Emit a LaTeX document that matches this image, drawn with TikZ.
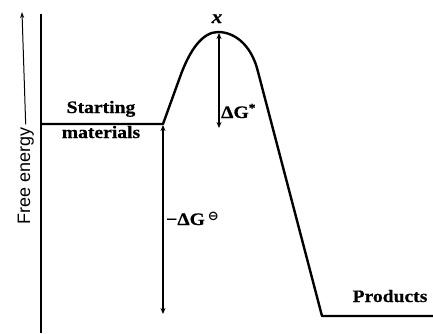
\documentclass[tikz,border=0pt]{standalone}
\usepackage{fontspec}
\setmainfont{Liberation Serif}
\newfontfamily\labf[FakeStretch=1.12,FakeBold=0.6]{Liberation Serif}
\newfontfamily\axf{Liberation Sans}
\newfontfamily\symf{DejaVu Sans}
\usetikzlibrary{arrows.meta}
\begin{document}
\begin{tikzpicture}[x=1pt,y=-1pt,
  curve/.style={line width=2.4pt,line join=round},
  thin/.style={line width=1.3pt},
  dbl/.style={line width=1.3pt,{Stealth[length=6pt,width=5pt]}-{Stealth[length=6pt,width=5pt]}},
  lab/.style={font=\labf\bfseries\fontsize{17.5}{20}\selectfont,inner sep=0pt},
  axlab/.style={font=\axf\fontsize{18}{20}\selectfont,inner sep=0pt}]
\useasboundingbox (0,0) rectangle (433,333);
% axis
\coordinate (axtop) at (41,14);
\coordinate (axbot) at (41,333);
\draw[thin] (axtop) -- (axbot);
\node[axlab,rotate=90,anchor=base] (fe) at (30,176) {Free energy};
\coordinate (fearrow) at (22,12);
\draw[line width=1pt,-{Stealth[length=6pt,width=4pt]}] (fe.east) ++(0,-3) coordinate (fetop) (fetop) -- (fearrow);
% energy profile
\coordinate (sm0) at (41,124);
\coordinate (sm) at (163,124);
\coordinate (up) at (180,77);
\coordinate (peak) at (218,32);
\coordinate (dn) at (257,68);
\coordinate (pr) at (322,316);
\coordinate (pr1) at (433,316);
\draw[curve] (sm0) -- (sm) -- (up) .. controls (190,49) and (203,32) .. (peak)
  .. controls (234,32) and (250,44) .. (dn) -- (pr) -- (pr1);
% arrows
\coordinate (peakb) at (219,33);
\coordinate (ts) at (219,128);
\draw[dbl] (peakb) -- (ts);
\coordinate (smb) at (163,125);
\coordinate (prb) at (163,314);
\draw[dbl] (smb) -- (prb);
% labels
\node[lab,anchor=base] (st) at (101,113) {Starting};
\node[lab,anchor=base] (mat) at (101,138) {materials};
\node[lab,anchor=base] (prod) at (390,302) {Products};
\node[font=\labf\fontsize{19}{20}\selectfont\bfseries\itshape,inner sep=0pt,anchor=base] (x) at (217,23) {x};
\node[lab,anchor=base west] (dgs) at (221,118) {ΔG\raisebox{0.35em}{\fontsize{12}{12}\selectfont *}};
\node[lab,anchor=base west] (dgo) at (166,225) {−ΔG\,\raisebox{0.25em}{\symf\bfseries\fontsize{13}{13}\selectfont ⊖}};
\end{tikzpicture}
\end{document}
